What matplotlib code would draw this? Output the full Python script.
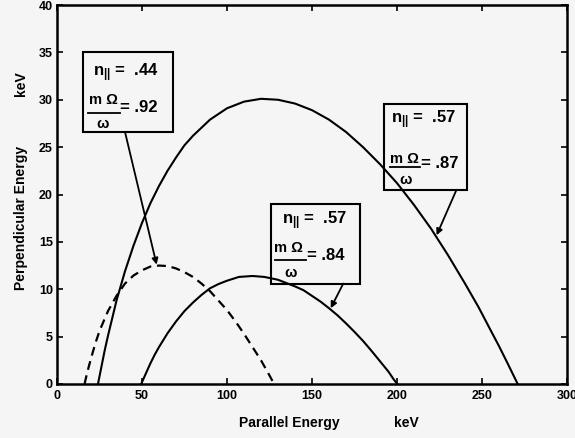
import matplotlib
matplotlib.use('Agg')
import matplotlib.pyplot as plt
from matplotlib.patches import Rectangle

plt.rcParams['font.family'] = ['Liberation Sans', 'DejaVu Sans']
plt.rcParams['font.weight'] = 'bold'
plt.rcParams['mathtext.fontset'] = 'custom'
plt.rcParams['mathtext.rm'] = 'Liberation Sans:bold'
plt.rcParams['mathtext.it'] = 'Liberation Sans:bold'
plt.rcParams['mathtext.bf'] = 'Liberation Sans:bold'
plt.rcParams['mathtext.sf'] = 'Liberation Sans:bold'

# ---- data (keV) ----
# n_par = .57, m Omega / omega = .87 (large solid curve)
e_par_a = [24.1, 26, 28, 30, 35, 40, 45, 50, 55, 60, 65, 70, 75, 80, 90, 100, 110, 120, 130, 140,
           150, 160, 170, 180, 190, 200, 210, 220, 230, 240, 248, 255, 260, 265, 268, 271]
e_perp_a = [0, 1.7, 3.5, 5.1, 8.8, 11.9, 14.6, 17.0, 19.1, 20.9, 22.5, 23.9, 25.2, 26.2, 27.9, 29.1, 29.8, 30.1, 30.0, 29.6,
            28.9, 27.9, 26.6, 25.0, 23.2, 21.2, 18.9, 16.4, 13.6, 10.6, 8.1, 5.7, 4.0, 2.2, 1.1, 0]

# n_par = .57, m Omega / omega = .84 (small solid curve)
e_par_b = [49.5, 51, 52.5, 55, 57.5, 60, 65, 70, 75, 80, 85, 90, 95, 100, 107, 115, 122, 130, 140,
           145, 150, 155, 160, 165, 170, 175, 180, 185, 190, 195, 198, 200.2]
e_perp_b = [0, 0.6, 1.2, 2.2, 3.1, 3.9, 5.35, 6.6, 7.7, 8.6, 9.4, 10.1, 10.55, 10.9, 11.3, 11.4, 11.3, 11.0, 10.3,
            9.9, 9.3, 8.7, 8.0, 7.25, 6.4, 5.5, 4.55, 3.5, 2.4, 1.3, 0.5, 0]

# n_par = .44, m Omega / omega = .92 (dashed curve)
e_par_c = [16.2, 17.5, 18.5, 20, 22.5, 25, 30, 35, 40, 45, 50, 55, 60, 65, 70, 75, 80, 85, 90,
           95, 100, 105, 110, 115, 120, 125, 127.7]
e_perp_c = [0, 1.0, 1.7, 2.7, 4.25, 5.6, 7.7, 9.3, 10.6, 11.45, 12.0, 12.4, 12.5, 12.45, 12.2, 11.8, 11.3, 10.6, 9.8,
            8.8, 7.8, 6.6, 5.3, 3.9, 2.5, 0.9, 0]

x_ticks = [0, 50, 100, 150, 200, 250, 300]
y_ticks = [0, 5, 10, 15, 20, 25, 30, 35, 40]

n_par_labels = ['.44', '.57', '.57']
ratio_labels = ['.92', '.84', '.87']

bg = '#f5f5f5'
fig = plt.figure(figsize=(5.75, 4.38), dpi=100, facecolor=bg)
ax = fig.add_axes([57/575, 54/438, 510/575, 379/438], facecolor=bg)

ax.plot(e_par_a, e_perp_a, color='black', lw=1.5)
ax.plot(e_par_b, e_perp_b, color='black', lw=1.5)
ax.plot(e_par_c, e_perp_c, color='black', lw=1.6, linestyle=(0, (4, 2.6)))

ax.set_xlim(0, 300)
ax.set_ylim(0, 40)
ax.set_xticks(x_ticks)
ax.set_yticks(y_ticks)
ax.set_xticklabels([str(v) for v in x_ticks], fontsize=9, fontweight='bold')
ax.set_yticklabels([str(v) for v in y_ticks], fontsize=9, fontweight='bold')
ax.tick_params(direction='in', top=True, right=True, length=4, width=1.2, pad=4)
ax.tick_params(axis='y', pad=3)
for s in ax.spines.values():
    s.set_linewidth(1.8)

# pixel scale of the axes (for placing box contents)
PX_X = 510 / 300.0
PX_Y = 379 / 40.0


def pos(x0, y1, rx, ry):
    return (x0 + rx / PX_X, y1 - ry / PX_Y)


# box: (x0, y0, x1, y1), then relative pixel layout:
# n-line (left x, center y), mOmega (center x, y), bar (x0, x1, y), omega (x, y), "= v" (left x, y)
boxes = [
    dict(b=(15.3, 26.6, 68.2, 35.0), n=(10, 20), mo=(20, 48), bar=(5, 37, 61), om=(20, 72), eq=(37, 55),
         a0=(40.0, 26.6), a1=(58.6, 12.6)),
    dict(b=(125.7, 10.6, 178.2, 19.0), n=(11, 17), mo=(18, 44), bar=(4, 35, 56), om=(20, 69), eq=(36, 52),
         a0=(168.4, 10.6), a1=(161.0, 8.0)),
    dict(b=(192.5, 20.5, 241.4, 29.6), n=(7, 16), mo=(20, 55), bar=(6, 36, 63), om=(21, 76), eq=(37, 60),
         a0=(235.0, 20.5), a1=(223.3, 15.7)),
]
for d, n_lab, r_lab in zip(boxes, n_par_labels, ratio_labels):
    x0, y0, x1, y1 = d['b']
    ax.add_patch(Rectangle((x0, y0), x1 - x0, y1 - y0, fill=False, ec='black', lw=1.5, zorder=4))
    ax.text(*pos(x0, y1, *d['n']), r'$\mathregular{n}_{||}$ =  ' + n_lab, ha='left', va='center',
            fontsize=12, fontweight='bold', zorder=5)
    ax.text(*pos(x0, y1, *d['mo']), 'm Ω', ha='center', va='center', fontsize=10.5,
            fontweight='bold', zorder=5)
    bx0, bx1, by = d['bar']
    p0 = pos(x0, y1, bx0, by)
    p1 = pos(x0, y1, bx1, by)
    ax.plot([p0[0], p1[0]], [p0[1], p1[1]], color='black', lw=1.3, zorder=5)
    ax.text(*pos(x0, y1, *d['om']), 'ω', ha='center', va='center', fontsize=10.5,
            fontweight='bold', zorder=5)
    ax.text(*pos(x0, y1, *d['eq']), '= ' + r_lab, ha='left', va='center', fontsize=12,
            fontweight='bold', zorder=5)
    ax.annotate('', xy=d['a1'], xytext=d['a0'],
                arrowprops=dict(arrowstyle='-|>', color='black', lw=1.3,
                                mutation_scale=9, shrinkA=0, shrinkB=0), zorder=5)

fig.text(289/575, 1 - 423/438, 'Parallel Energy', ha='center', va='center', fontsize=10, fontweight='bold')
fig.text(406/575, 1 - 423/438, 'keV', ha='center', va='center', fontsize=10, fontweight='bold')
fig.text(21/575, 1 - 218/438, 'Perpendicular Energy', ha='center', va='center', rotation=90,
         fontsize=10, fontweight='bold')
fig.text(21/575, 1 - 84/438, 'keV', ha='center', va='center', rotation=90, fontsize=10, fontweight='bold')

fig.savefig('out.png', dpi=100, facecolor=bg)
